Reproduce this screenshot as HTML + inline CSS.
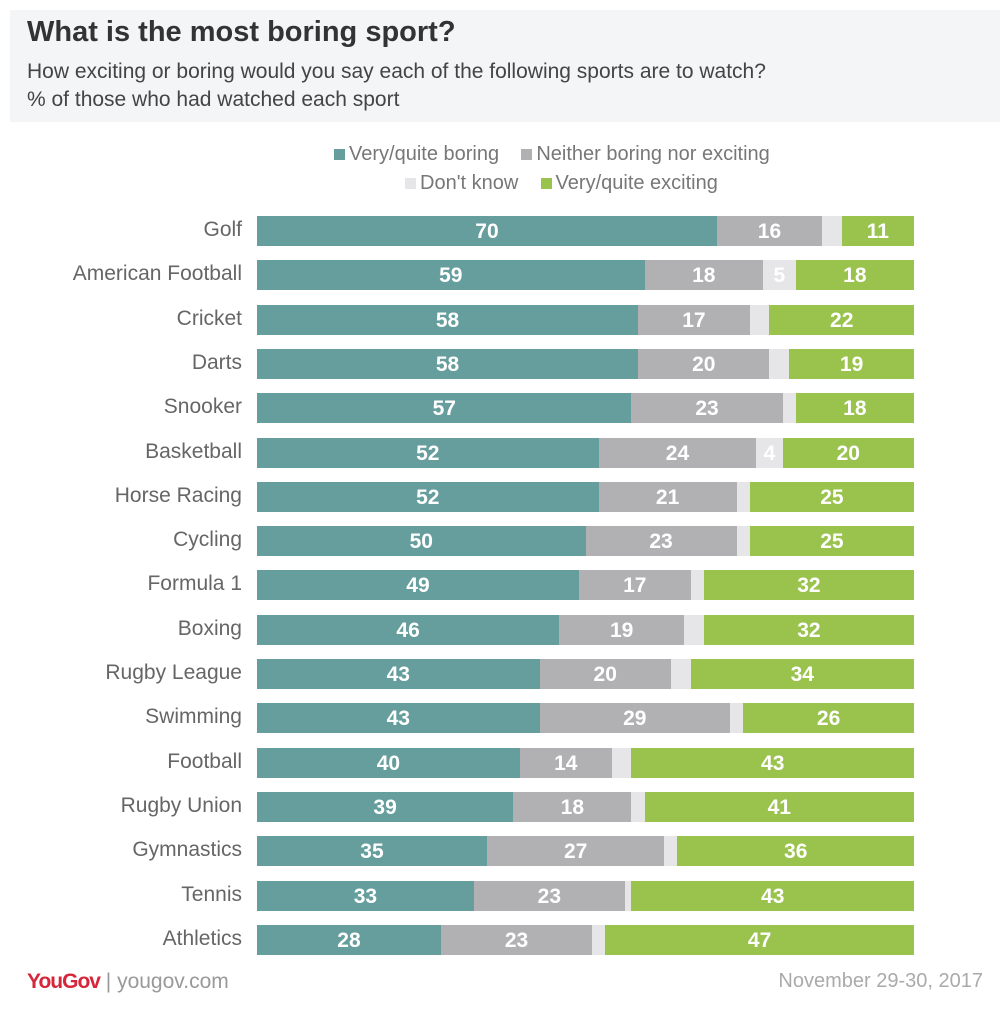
<!DOCTYPE html>
<html><head><meta charset="utf-8"><style>
body{margin:0;width:1000px;height:1014px;background:#fff;position:relative;overflow:hidden;font-family:"Liberation Sans",sans-serif}
.hdr{position:absolute;left:10px;top:10px;width:990px;height:112px;background:#f4f5f7}
.t{position:absolute;left:27px;top:16px;font-size:29px;font-weight:bold;color:#333}
.s{position:absolute;left:27px;font-size:21px;color:#444}
.lg{position:absolute;font-size:20px;color:#777;white-space:nowrap}
.lg i{display:inline-block;width:11px;height:11px;margin-right:4px}
.lab{position:absolute;width:242px;left:0;text-align:right;font-size:21px;color:#666}
.seg{position:absolute;height:30px;color:#fff;font-weight:bold;font-size:21px;text-align:center;line-height:32px}
</style></head><body>
<div class="hdr"></div>
<div class="t">What is the most boring sport?</div>
<div class="s" style="top:60px">How exciting or boring would you say each of the following sports are to watch?</div>
<div class="s" style="top:88px">% of those who had watched each sport</div>
<div class="lg" style="left:334px;top:143px"><i style="background:#669e9d"></i>Very/quite boring &nbsp;&nbsp; <i style="background:#b1b1b3"></i>Neither boring nor exciting</div>
<div class="lg" style="left:405px;top:172px"><i style="background:#e6e6e8"></i>Don't know &nbsp;&nbsp; <i style="background:#9ac34d"></i>Very/quite exciting</div>
<div id="c"></div>
<div style="position:absolute;left:27px;top:970px;font-size:21px;font-weight:bold;color:#d6263a;letter-spacing:-1px">YouGov<span style="font-weight:normal;color:#999;letter-spacing:0"> | yougov.com</span></div>
<div style="position:absolute;right:17px;top:970px;font-size:20px;color:#aaa">November 29-30, 2017</div>
<script>
var d=[["Golf",70,16,3,11],["American Football",59,18,5,18],["Cricket",58,17,3,22],["Darts",58,20,3,19],["Snooker",57,23,2,18],["Basketball",52,24,4,20],["Horse Racing",52,21,2,25],["Cycling",50,23,2,25],["Formula 1",49,17,2,32],["Boxing",46,19,3,32],["Rugby League",43,20,3,34],["Swimming",43,29,2,26],["Football",40,14,3,43],["Rugby Union",39,18,2,41],["Gymnastics",35,27,2,36],["Tennis",33,23,1,43],["Athletics",28,23,2,47]];
var cols=["#669e9d","#b1b1b3","#e6e6e8","#9ac34d"],h="";
d.forEach(function(r,i){var y=216+i*44.3,sum=r[1]+r[2]+r[3]+r[4],sc=657/sum,x=257;
h+='<div class="lab" style="top:'+(y+2)+'px">'+r[0]+'</div>';
for(var k=1;k<5;k++){var w=r[k]*sc;var txt=(k==3&&r[k]<4)?'':r[k];
h+='<div class="seg" style="left:'+x+'px;top:'+y+'px;width:'+w+'px;background:'+cols[k-1]+'">'+txt+'</div>';x+=w;}});
document.getElementById("c").innerHTML=h;
</script>
</body></html>
